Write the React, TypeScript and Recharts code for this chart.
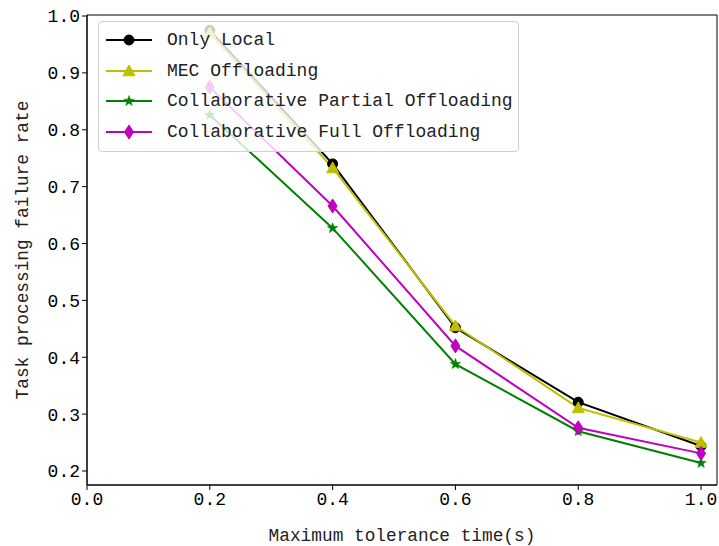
import React from 'react';
import {
  LineChart,
  Line,
  XAxis,
  YAxis,
  Legend,
  ReferenceArea,
} from 'recharts';

// x values (maximum tolerance time, s)
const TIMES = [0.2, 0.4, 0.6, 0.8, 1.0];

// task processing failure rate per scheme
const ONLY_LOCAL = [0.975, 0.74, 0.452, 0.321, 0.244];
const MEC_OFFLOADING = [0.97, 0.733, 0.455, 0.311, 0.25];
const COLLAB_PARTIAL = [0.826, 0.627, 0.388, 0.27, 0.214];
const COLLAB_FULL = [0.875, 0.666, 0.42, 0.276, 0.231];

const X_TICKS = [0, 0.2, 0.4, 0.6, 0.8, 1.0];
const Y_TICKS = [0.2, 0.3, 0.4, 0.5, 0.6, 0.7, 0.8, 0.9, 1.0];

const X_DOMAIN = [0, 1.026];
const Y_DOMAIN = [0.1754, 1.0018];

const FONT = '"Liberation Mono", "DejaVu Sans Mono", monospace';

const data = TIMES.map((t, i) => ({
  t,
  local: ONLY_LOCAL[i],
  mec: MEC_OFFLOADING[i],
  partial: COLLAB_PARTIAL[i],
  full: COLLAB_FULL[i],
}));

type Shape = 'circle' | 'triangle' | 'star' | 'diamond';

const SERIES: { key: string; name: string; color: string; shape: Shape }[] = [
  { key: 'local', name: 'Only Local', color: '#000000', shape: 'circle' },
  { key: 'mec', name: 'MEC Offloading', color: '#bfbf00', shape: 'triangle' },
  { key: 'partial', name: 'Collaborative Partial Offloading', color: '#008000', shape: 'star' },
  { key: 'full', name: 'Collaborative Full Offloading', color: '#bf00bf', shape: 'diamond' },
];

function marker(shape: Shape, cx: number, cy: number, color: string, key?: string) {
  if (shape === 'circle') {
    return <circle key={key} cx={cx} cy={cy} r={5} fill={color} stroke={color} />;
  }
  if (shape === 'triangle') {
    const s = 6;
    const pts = `${cx},${cy - s} ${cx - s},${cy + s * 0.8} ${cx + s},${cy + s * 0.8}`;
    return <polygon key={key} points={pts} fill={color} stroke={color} />;
  }
  if (shape === 'diamond') {
    const pts = `${cx},${cy - 7} ${cx + 4.5},${cy} ${cx},${cy + 7} ${cx - 4.5},${cy}`;
    return <polygon key={key} points={pts} fill={color} stroke={color} />;
  }
  // star
  const pts: string[] = [];
  for (let k = 0; k < 10; k++) {
    const r = k % 2 === 0 ? 5.5 : 2.3;
    const a = -Math.PI / 2 + (k * Math.PI) / 5;
    pts.push(`${cx + r * Math.cos(a)},${cy + r * Math.sin(a)}`);
  }
  return <polygon key={key} points={pts.join(' ')} fill={color} stroke={color} strokeWidth={0.5} />;
}

function makeDot(shape: Shape, color: string) {
  return (props: any) => {
    const { cx, cy, index } = props;
    if (cx == null || cy == null) return <g key={`d-${index}`} />;
    return marker(shape, cx, cy, color, `d-${shape}-${index}`);
  };
}

function LegendBox() {
  return (
    <div
      style={{
        width: 419,
        height: 126,
        background: 'rgba(255,255,255,0.8)',
        border: '1px solid #d0d0d0',
        borderRadius: 4,
        boxSizing: 'content-box',
        paddingTop: 3,
        fontFamily: FONT,
        fontSize: 18,
        color: '#222',
      }}
    >
      {SERIES.map((s) => (
        <div key={s.key} style={{ display: 'flex', alignItems: 'center', height: 30.5 }}>
          <svg width={60} height={20} style={{ marginLeft: 6, flex: 'none' }}>
            <line x1={1} y1={10} x2={47} y2={10} stroke={s.color} strokeWidth={2} />
            {marker(s.shape, 24, 10, s.color)}
          </svg>
          <span style={{ marginLeft: 2, whiteSpace: 'pre' }}>{s.name}</span>
        </div>
      ))}
    </div>
  );
}

export default function App() {
  return (
    <div style={{ position: 'absolute', left: 0, top: 0, fontFamily: FONT }}>
      <LineChart
        width={719}
        height={546}
        data={data}
        margin={{ top: 15, right: 2, left: 0, bottom: 0 }}
        style={{ fontFamily: FONT }}
      >
        <XAxis
          dataKey="t"
          type="number"
          domain={X_DOMAIN}
          allowDataOverflow
          ticks={X_TICKS}
          tickFormatter={(v) => Number(v).toFixed(1)}
          height={61}
          tickSize={5}
          stroke="#000"
          tick={{ fill: '#000', fontSize: 18, fontFamily: FONT }}
          label={{
            value: 'Maximum tolerance time(s)',
            position: 'insideBottom',
            offset: 5,
            style: { fill: '#222', fontSize: 17.8, fontFamily: FONT },
          }}
        />
        <YAxis
          type="number"
          domain={Y_DOMAIN}
          allowDataOverflow
          ticks={Y_TICKS}
          tickFormatter={(v) => Number(v).toFixed(1)}
          width={87}
          tickSize={5}
          stroke="#000"
          tick={{ fill: '#000', fontSize: 18, fontFamily: FONT }}
          label={{
            value: 'Task processing failure rate',
            angle: -90,
            position: 'insideLeft',
            offset: 22,
            style: { textAnchor: 'middle', fill: '#222', fontSize: 17.8, fontFamily: FONT },
          }}
        />

        {/* frame (top/right spines) */}
        <ReferenceArea
          x1={X_DOMAIN[0]}
          x2={X_DOMAIN[1]}
          y1={Y_DOMAIN[0]}
          y2={Y_DOMAIN[1]}
          fill="none"
          stroke="#000"
          strokeWidth={1}
          ifOverflow="visible"
        />

        {SERIES.map((s) => (
          <Line
            key={s.key}
            type="linear"
            dataKey={s.key}
            name={s.name}
            stroke={s.color}
            strokeWidth={2}
            dot={makeDot(s.shape, s.color)}
            activeDot={false}
            isAnimationActive={false}
          />
        ))}

        <Legend
          layout="vertical"
          align="center"
          verticalAlign="middle"
          wrapperStyle={{ left: 98, top: 21, width: 'auto', height: 'auto' }}
          content={() => <LegendBox />}
        />
      </LineChart>
    </div>
  );
}
